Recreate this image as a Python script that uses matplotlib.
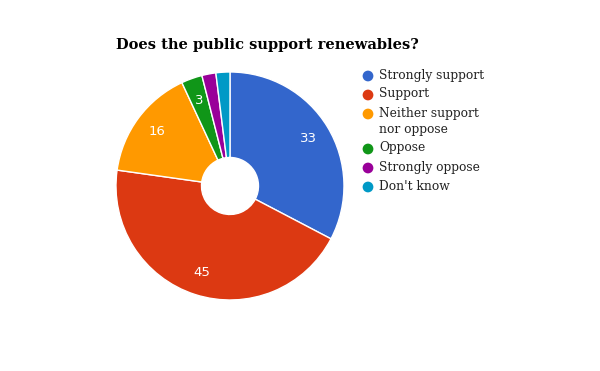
import matplotlib

matplotlib.use("Agg")
import matplotlib.pyplot as plt

# survey answers, percent
categories = ["Strongly support", "Support", "Neither support\nnor oppose",
              "Oppose", "Strongly oppose", "Don't know"]
values = [33, 45, 16, 3, 2, 2]
shown_labels = ["33", "45", "16", "3", "", ""]
colors = ["#3366cc", "#dc3912", "#ff9900", "#109618", "#990099", "#0099c6"]

fig = plt.figure(figsize=(6.0, 3.71), dpi=100)
ax = fig.add_axes([0.1933, 0.1914, 0.38, 0.6146])

wedges, texts = ax.pie(
    values, colors=colors, startangle=90, counterclock=False,
    labels=shown_labels, labeldistance=0.8,
    wedgeprops=dict(width=0.75, edgecolor="white", linewidth=1),
    textprops=dict(color="white", fontsize=9.5, family="DejaVu Sans"),
)
for t in texts:
    t.set_ha("center")
    t.set_va("center")
ax.set_aspect("equal")
ax.set_xlim(-1, 1)
ax.set_ylim(-1, 1)

fig.text(116 / 600, 1 - 45 / 371, "Does the public support renewables?",
         family="DejaVu Serif", fontweight="bold", fontsize=10.5,
         ha="left", va="center", color="#000000")

# legend drawn by hand in pixel space so the multi-line entry keeps its
# marker on the first line like the original
lg = fig.add_axes([0, 0, 1, 1])
lg.set_xlim(0, 600)
lg.set_ylim(371, 0)
lg.axis("off")
y = 76
for name, c in zip(categories, colors):
    lg.scatter([368], [y], s=60, color=c, edgecolors="none")
    lg.text(379, y - 7.5, name, family="DejaVu Serif", fontsize=8.8,
            color="#222222", ha="left", va="top", linespacing=1.3)
    y += 19 + 16 * name.count("\n")

fig.savefig("out.png", dpi=100)
